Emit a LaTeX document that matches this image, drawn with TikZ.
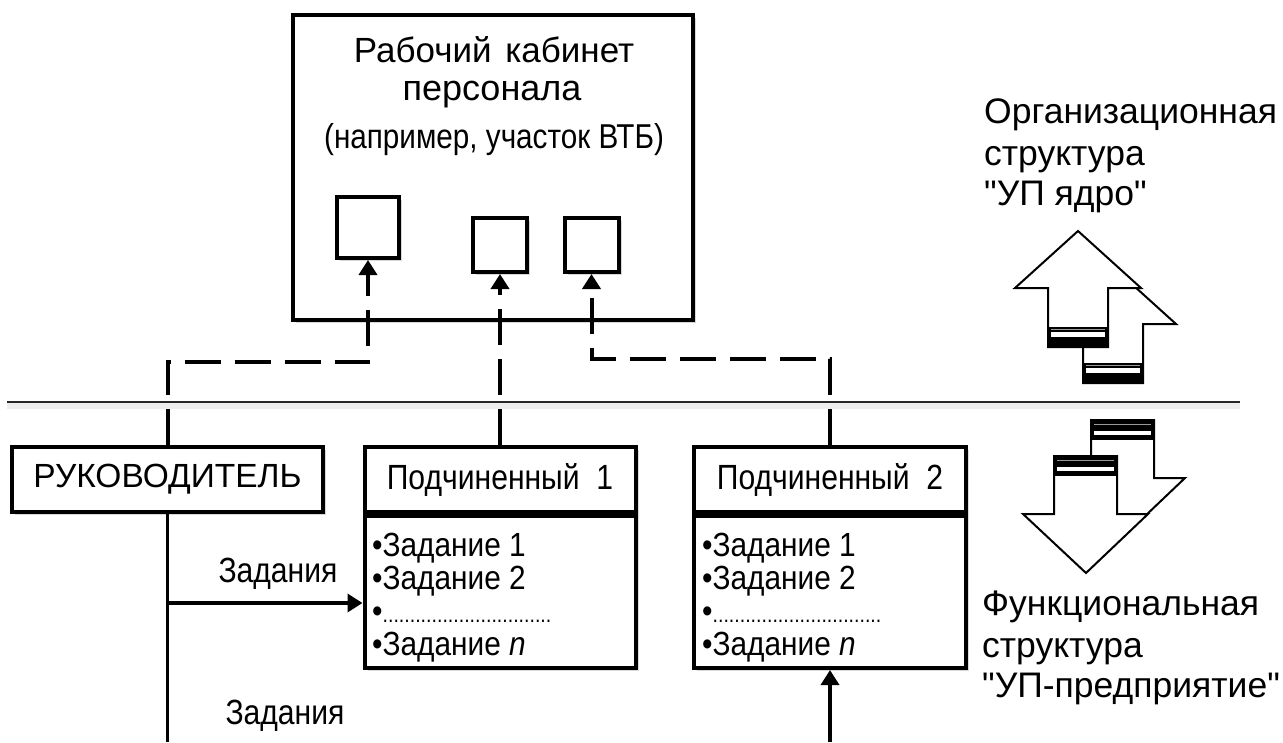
\documentclass[tikz,border=0pt]{standalone}
\usepackage{fontspec}
\setmainfont{Liberation Sans}
\newfontfamily\condfont[FakeStretch=0.86]{Liberation Sans}
\newfontfamily\listfont[FakeStretch=0.89]{Liberation Sans}
\newfontfamily\lblfont[Ligatures=TeXOff]{Liberation Sans}
\usetikzlibrary{arrows.meta,shadows}
\begin{document}
\begin{tikzpicture}[x=1pt,y=-1pt,
  box/.style={draw, line width=4pt, fill=white, inner sep=0pt, outer sep=2pt,
    drop shadow={shadow xshift=3pt, shadow yshift=-3pt, opacity=0.3}},
  dashconn/.style={line width=4pt, dash pattern=on 36pt off 14pt},
  solidconn/.style={line width=3.5pt},
  tiphead/.style={-{Triangle[width=18pt,length=15pt]}},
  bigarrow/.style={draw, line width=2pt, fill=white, line join=miter},
  lbl/.style={anchor=base west, inner sep=0pt, font=\lblfont\fontsize{35.5}{40}\selectfont},
  cond/.style={inner sep=0pt, font=\condfont\fontsize{35}{40}\selectfont},
  listtext/.style={align=left, inner sep=0pt, anchor=north west,
    font=\listfont\fontsize{33.5}{33}\selectfont},
]
\useasboundingbox (0,0) rectangle (1283,742);

% separator line with shadow
\coordinate (sepL) at (7,402);
\coordinate (sepR) at (1240,402);
\draw[line width=6pt, black!7] ([yshift=-4pt]sepL) -- ([yshift=-4pt]sepR);
\draw[line width=2pt, black!85] (sepL) -- (sepR);

% top box
\node[box, minimum width=400pt, minimum height=305pt] (cab) at (493,167.5) {};
\node[inner sep=0pt, anchor=base, font=\fontsize{35}{40}\selectfont] (t1) at (494,62) {Рабочий\hspace{4pt} кабинет};
\node[inner sep=0pt, anchor=base, font=\fontsize{36}{40}\selectfont] (t2) at (492,100) {персонала};
\node[inner sep=0pt, anchor=base, font=\condfont\fontsize{34.5}{40}\selectfont] (t3) at (494,148) {(например, участок ВТБ)};

% small squares
\node[box, minimum width=62pt, minimum height=61pt] (sq1) at (368,227.5) {};
\node[box, minimum width=54pt, minimum height=54pt] (sq2) at (500,245) {};
\node[box, minimum width=54pt, minimum height=54pt] (sq3) at (591.5,245) {};

% lower boxes
\node[box, minimum width=311pt, minimum height=65pt, font=\fontsize{33.5}{40}\selectfont] (ruk) at (167.5,479.5) {РУКОВОДИТЕЛЬ};
\node[box, minimum width=271pt, minimum height=65pt, font=\condfont\fontsize{35}{40}\selectfont] (s1h) at (500,479.5) {Подчиненный\ \ 1};
\node[box, minimum width=271pt, minimum height=156pt] (s1l) at (500,590) {};
\node[box, minimum width=272pt, minimum height=65pt, font=\condfont\fontsize{35}{40}\selectfont] (s2h) at (830,479.5) {Подчиненный\ \ 2};
\node[box, minimum width=272pt, minimum height=156pt] (s2l) at (830,590) {};
\draw[line width=7pt] (s1h.south west) -- (s1h.south east);
\draw[line width=7pt] (s2h.south west) -- (s2h.south east);

\node[listtext] (l1) at (372,533)
  {•Задание 1\\•Задание 2\\•{\fontsize{22}{22}\selectfont ...............................}\\•Задание \textit{n}};
\node[listtext] (l2) at (702,533)
  {•Задание 1\\•Задание 2\\•{\fontsize{22}{22}\selectfont ...............................}\\•Задание \textit{n}};

% dashed connectors to the squares
\coordinate (c1) at (368,362);
\coordinate (c3) at (591.5,359);
\draw[dashconn, tiphead] (ruk.north) |- (c1) -- (sq1.south);
\draw[dashconn, tiphead] (s1h.north) -- (sq2.south);
\draw[dashconn, tiphead] (s2h.north) |- (c3) -- (sq3.south);

% solid connectors
\coordinate (bl) at (167.5,742);
\coordinate (j1) at (167.5,603);
\coordinate (b2) at (830,742);
\draw[solidconn] (ruk.south) -- (bl);
\draw[solidconn, tiphead] (j1) -- (j1 -| s1l.west);
\draw[solidconn, tiphead] (b2) -- (s2l.south);

\node[cond, anchor=base] (z1) at (278,582) {Задания};
\node[cond, anchor=base] (z2) at (285,724) {Задания};

% right labels
\node[lbl] (o1) at (984,123) {Организационная};
\node[lbl] (o2) at (984,165) {структура};
\node[lbl] (o3) at (984,205) {"УП ядро"};
\node[lbl] (f1) at (982,615) {Функциональная};
\node[lbl] (f2) at (982,657) {структура};
\node[lbl] (f3) at (982,697) {"УП-предприятие"};

% up arrows (back one first)
\begin{scope}[shift={(35,36)}]
  \path[bigarrow] (1078,231) -- (1141,288) -- (1108,288) -- (1108,347) -- (1048,347) -- (1048,288) -- (1015,288) -- cycle;
  \fill[black] (1047,327) rectangle (1109,348);
  \fill[white] (1051,332) rectangle (1105,336.5);
  \draw[white!60!black, line width=0.8pt] (1051,329.5) -- (1105,329.5);
\end{scope}
\path[bigarrow] (1078,231) -- (1141,288) -- (1108,288) -- (1108,347) -- (1048,347) -- (1048,288) -- (1015,288) -- cycle;
\fill[black] (1047,327) rectangle (1109,348);
\fill[white] (1051,332) rectangle (1105,336.5);
\draw[white!60!black, line width=0.8pt] (1051,329.5) -- (1105,329.5);

% down arrows (back one first)
\begin{scope}[shift={(37,-36)}]
  \path[bigarrow] (1054,456) -- (1117,456) -- (1117,514) -- (1148,514) -- (1086,573) -- (1023,514) -- (1054,514) -- cycle;
  \fill[black] (1053,455) rectangle (1118,476);
  \fill[white] (1057,466.5) rectangle (1114,470.5);
  \draw[white!60!black, line width=0.8pt] (1057,460) -- (1114,460);
\end{scope}
\path[bigarrow] (1054,456) -- (1117,456) -- (1117,514) -- (1148,514) -- (1086,573) -- (1023,514) -- (1054,514) -- cycle;
\fill[black] (1053,455) rectangle (1118,476);
\fill[white] (1057,466.5) rectangle (1114,470.5);
\draw[white!60!black, line width=0.8pt] (1057,460) -- (1114,460);
\end{tikzpicture}
\end{document}
